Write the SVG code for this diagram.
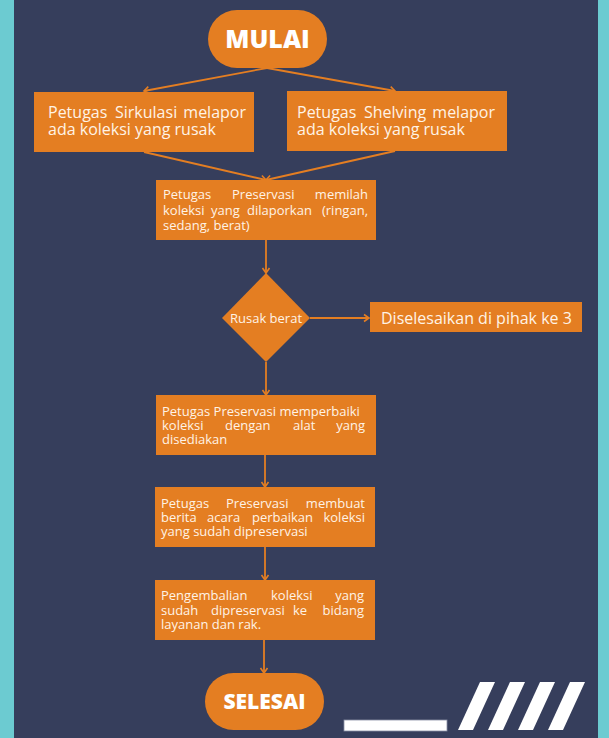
<svg xmlns="http://www.w3.org/2000/svg" width="609" height="738" viewBox="0 0 609 738">
<style>
.box{fill:#E47E22}
.t{font-family:"Open Sans","Liberation Sans",sans-serif;fill:#FFF3E6}
.s13{font-size:13px}
.s15{font-size:16px}
.e{text-anchor:end}
.title{font-family:"Open Sans","Liberation Sans",sans-serif;font-weight:800;fill:#FFFFFF;text-anchor:middle}
.c{stroke:#E47E22;stroke-width:1.8;fill:none}
</style>
<defs>
<marker id="ah" markerWidth="10" markerHeight="10" refX="7" refY="5" orient="auto" markerUnits="userSpaceOnUse">
<path d="M2,1.5 L7,5 L2,8.5" fill="none" stroke="#E47E22" stroke-width="1.6"/>
</marker>
</defs>
<rect x="0" y="0" width="609" height="738" fill="#6CCBD1"/>
<rect x="14" y="0" width="584" height="738" fill="#363E5C"/>

<g id="connectors">
<line class="c" x1="267" y1="68" x2="144" y2="91" marker-end="url(#ah)"/>
<line class="c" x1="267" y1="68" x2="395" y2="91" marker-end="url(#ah)"/>
<line class="c" x1="144" y1="152" x2="266" y2="180" marker-end="url(#ah)"/>
<line class="c" x1="395" y1="151" x2="266" y2="180" marker-end="url(#ah)"/>
<line class="c" x1="266" y1="240" x2="266" y2="273" marker-end="url(#ah)"/>
<line class="c" x1="310" y1="318" x2="369" y2="318" marker-end="url(#ah)"/>
<line class="c" x1="266" y1="362" x2="266" y2="395" marker-end="url(#ah)"/>
<line class="c" x1="265" y1="455" x2="265" y2="487" marker-end="url(#ah)"/>
<line class="c" x1="265" y1="547" x2="265" y2="580" marker-end="url(#ah)"/>
<line class="c" x1="264" y1="640" x2="264" y2="673" marker-end="url(#ah)"/>
</g>

<g id="mulai">
<rect class="box" x="208" y="10" width="119" height="58" rx="29"/>
<text class="title" x="267.5" y="48" font-size="25">MULAI</text>
</g>

<g id="sirkulasi">
<rect class="box" x="34" y="92" width="220" height="60"/>
<text class="t s15" x="48" y="118">Petugas</text>
<text class="t s15" x="115" y="118">Sirkulasi</text>
<text class="t s15 e" x="246" y="118">melapor</text>
<text class="t s15" x="48" y="135">ada koleksi yang rusak</text>
</g>

<g id="shelving">
<rect class="box" x="287" y="91" width="220" height="60"/>
<text class="t s15" x="297" y="118">Petugas</text>
<text class="t s15" x="364" y="118">Shelving</text>
<text class="t s15 e" x="495" y="118">melapor</text>
<text class="t s15" x="297" y="135">ada koleksi yang rusak</text>
</g>

<g id="memilah">
<rect class="box" x="156" y="180" width="220" height="60"/>
<text class="t s13" x="163" y="199">Petugas</text>
<text class="t s13" x="232" y="199">Preservasi</text>
<text class="t s13 e" x="368" y="199">memilah</text>
<text class="t s13" x="163" y="215">koleksi</text>
<text class="t s13" x="211" y="215">yang</text>
<text class="t s13" x="247" y="215">dilaporkan</text>
<text class="t s13 e" x="368" y="215">(ringan,</text>
<text class="t s13" x="163" y="230">sedang, berat)</text>
</g>

<g id="rusak">
<polygon class="box" points="266,273 310,318 266,362 222,318"/>
<text class="t s13" x="266" y="323" text-anchor="middle">Rusak berat</text>
</g>

<g id="pihak3">
<rect class="box" x="370" y="302" width="212" height="30"/>
<text class="t s15" x="381" y="324">Diselesaikan di pihak ke 3</text>
</g>

<g id="memperbaiki">
<rect class="box" x="156" y="395" width="220" height="60"/>
<text class="t s13" x="162" y="416">Petugas Preservasi memperbaiki</text>
<text class="t s13" x="162" y="430">koleksi</text>
<text class="t s13" x="225" y="430">dengan</text>
<text class="t s13" x="293" y="430">alat</text>
<text class="t s13 e" x="365" y="430">yang</text>
<text class="t s13" x="162" y="444">disediakan</text>
</g>

<g id="berita">
<rect class="box" x="155" y="487" width="220" height="60"/>
<text class="t s13" x="161" y="508">Petugas</text>
<text class="t s13" x="226" y="508">Preservasi</text>
<text class="t s13 e" x="365" y="508">membuat</text>
<text class="t s13" x="161" y="522">berita</text>
<text class="t s13" x="207" y="522">acara</text>
<text class="t s13" x="252" y="522">perbaikan</text>
<text class="t s13 e" x="365" y="522">koleksi</text>
<text class="t s13" x="161" y="536">yang sudah dipreservasi</text>
</g>

<g id="pengembalian">
<rect class="box" x="155" y="580" width="220" height="60"/>
<text class="t s13" x="161" y="600">Pengembalian</text>
<text class="t s13" x="271" y="600">koleksi</text>
<text class="t s13 e" x="364" y="600">yang</text>
<text class="t s13" x="161" y="615">sudah</text>
<text class="t s13" x="211" y="615">dipreservasi</text>
<text class="t s13" x="293" y="615">ke</text>
<text class="t s13 e" x="364" y="615">bidang</text>
<text class="t s13" x="161" y="629">layanan dan rak.</text>
</g>

<g id="selesai">
<rect class="box" x="205" y="673" width="119" height="57" rx="28.5"/>
<text class="title" x="264.5" y="709" font-size="21">SELESAI</text>
</g>

<g id="decoration">
<rect x="344" y="720" width="103" height="11" fill="#FFFFFF" stroke="#8A90A6" stroke-width="0.8"/>
<polygon points="480,682 495,682 473,730 458,730" fill="#FFFFFF"/>
<polygon points="510,682 525,682 503,730 488,730" fill="#FFFFFF"/>
<polygon points="540,682 555,682 533,730 518,730" fill="#FFFFFF"/>
<polygon points="570,682 585,682 563,730 548,730" fill="#FFFFFF"/>
</g>
</svg>
